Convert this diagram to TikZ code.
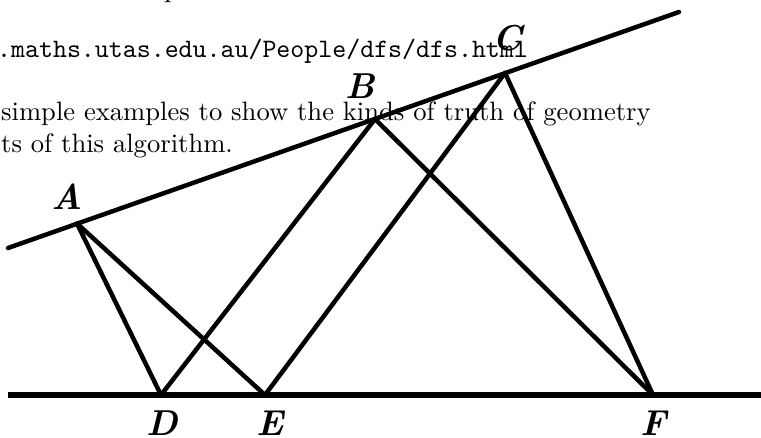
\documentclass[tikz,border=0pt]{standalone}
\begin{document}
\begin{tikzpicture}[x=1pt,y=-1pt,
  geo/.style={line width=4.5pt, line cap=round, line join=round},
  base/.style={line width=5.5pt},
  lbl/.style={inner sep=0pt},
  serif/.style={inner sep=0pt, anchor=base west},
  mono/.style={inner sep=0pt, anchor=base west}]
\newcommand\bigtext[1]{\scalebox{2.66}{\fontsize{10}{12}\selectfont #1}}
\newcommand\biglabel[1]{\scalebox{3.6}{\fontsize{10}{12}\selectfont\bfseries\itshape #1}}
\useasboundingbox (0,0) rectangle (761,437);
% text
\node[serif] (frag) at (164,-3) {\bigtext{p}};
\node[mono] (url) at (-3,57) {\bigtext{\ttfamily .maths.utas.edu.au/People/dfs/dfs.html}};
\node[serif] (t2) at (1,120) {\bigtext{simple examples to show the kinds of truth of geometry}};
\node[serif] (t3) at (1,152) {\bigtext{ts of this algorithm.}};
% points
\coordinate (L1) at (8,248);
\coordinate (L2) at (679,12);
\coordinate (M1) at (8,395);
\coordinate (M2) at (761,395);
\coordinate (A) at (77,223.5);
\coordinate (B) at (375,119);
\coordinate (C) at (505,73);
\coordinate (D) at (161,395);
\coordinate (E) at (265,395);
\coordinate (F) at (653,395);
% lines
\draw[geo] (L1) -- (L2);
\draw[base] (M1) -- (M2);
\draw[geo] (A) -- (D);
\draw[geo] (A) -- (E);
\draw[geo] (D) -- (B);
\draw[geo] (E) -- (C);
\draw[geo] (B) -- (F);
\draw[geo] (C) -- (F);
% labels
\node[lbl] (lA) at (67,197) {\biglabel{A}};
\node[lbl] (lB) at (360,86) {\biglabel{B}};
\node[lbl] (lC) at (507,38) {\biglabel{C}};
\node[lbl] (lD) at (162,423) {\biglabel{D}};
\node[lbl] (lE) at (270,423) {\biglabel{E}};
\node[lbl] (lF) at (654,423) {\biglabel{F}};
\end{tikzpicture}
\end{document}
